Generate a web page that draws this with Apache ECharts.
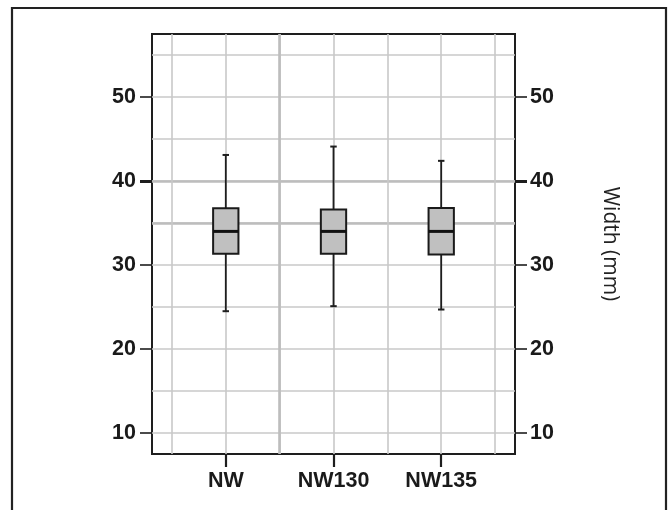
<!DOCTYPE html>
<html>
<head>
<meta charset="utf-8">
<script src="https://cdn.jsdelivr.net/npm/echarts@6/dist/echarts.min.js"></script>
<style>
  html, body { margin: 0; padding: 0; background: #fff; }
  #main { width: 670px; height: 510px; }
</style>
</head>
<body>
<div id="main"></div>
<script>
// groups on the x axis
const categories = ['NW', 'NW130', 'NW135'];
// box statistics per group (mm)
const whiskerLow = [24.5, 25.1, 24.7];
const boxLow = [31.35, 31.35, 31.25];
const medians = [34.0, 34.0, 34.0];
const boxHigh = [36.75, 36.6, 36.8];
const whiskerHigh = [43.1, 44.1, 42.4];
// y ticks / labels and the light grid
const yTickLabels = [10, 20, 30, 40, 50];
const yGridValues = [10, 15, 20, 25, 30, 35, 40, 45, 50, 55];
const yStrongGrid = [35, 40];
const yStrongTick = [40];
const xGridValues = [0.5, 1, 1.5, 2, 2.5, 3, 3.5];
const xStrongGrid = [1.5];

const chart = echarts.init(document.getElementById('main'));

const labelFont = {
  fontFamily: 'Liberation Sans',
  fontWeight: 'bold',
  fontSize: 21.5,
  color: '#1a1a1a'
};
const gridLine = { show: true, lineStyle: { color: '#c8c8c8', width: 1.6 } };
const strongLine = { show: true, lineStyle: { color: '#bdbdbd', width: 2.6 } };
const yRange = { type: 'value', min: 7.5, max: 57.5 };
const xRange = { type: 'value', min: 0.315, max: 3.685 };

const boxData = categories.map((c, i) => [
  i + 1, whiskerLow[i], boxLow[i], medians[i], boxHigh[i], whiskerHigh[i]
]);

function renderBox(params, api) {
  const x = api.value(0);
  const pLow = api.coord([x, api.value(1)]);
  const pQ1 = api.coord([x, api.value(2)]);
  const pMed = api.coord([x, api.value(3)]);
  const pQ3 = api.coord([x, api.value(4)]);
  const pHigh = api.coord([x, api.value(5)]);
  const halfBox = api.size([0.235, 0])[0] / 2;
  const halfCap = api.size([0.06, 0])[0] / 2;
  const stroke = { stroke: '#1e1e1e', lineWidth: 1.8 };
  return {
    type: 'group',
    children: [
      { type: 'line', shape: { x1: pHigh[0], y1: pHigh[1], x2: pQ3[0], y2: pQ3[1] }, style: stroke },
      { type: 'line', shape: { x1: pQ1[0], y1: pQ1[1], x2: pLow[0], y2: pLow[1] }, style: stroke },
      { type: 'line', shape: { x1: pHigh[0] - halfCap, y1: pHigh[1], x2: pHigh[0] + halfCap, y2: pHigh[1] }, style: { stroke: '#1e1e1e', lineWidth: 2 } },
      { type: 'line', shape: { x1: pLow[0] - halfCap, y1: pLow[1], x2: pLow[0] + halfCap, y2: pLow[1] }, style: { stroke: '#1e1e1e', lineWidth: 2 } },
      {
        type: 'rect',
        shape: { x: pQ3[0] - halfBox, y: pQ3[1], width: halfBox * 2, height: pQ1[1] - pQ3[1] },
        style: { fill: '#c0c0c0', stroke: '#1a1a1a', lineWidth: 2 }
      },
      { type: 'line', shape: { x1: pMed[0] - halfBox, y1: pMed[1], x2: pMed[0] + halfBox, y2: pMed[1] }, style: { stroke: '#111', lineWidth: 3 } }
    ]
  };
}

// helper for axes that only carry grid lines or an extra tick
function helperAxis(range, position, gridValues, split, tick) {
  return Object.assign({}, range, {
    position: position,
    axisLine: { show: false },
    axisTick: tick
      ? { show: true, customValues: gridValues, length: 12, lineStyle: { color: '#1e1e1e', width: 3 } }
      : { show: false, customValues: gridValues },
    axisLabel: { show: false },
    splitLine: split || { show: false }
  });
}

const option = {
  animation: false,
  backgroundColor: '#fff',
  graphic: [{
    type: 'rect',
    shape: { x: 12, y: 8, width: 654, height: 530 },
    style: { fill: null, stroke: '#222', lineWidth: 2.2 },
    silent: true
  }],
  grid: {
    left: 152, right: 155, top: 34, bottom: 56,
    show: true, borderColor: '#1e1e1e', borderWidth: 2
  },
  xAxis: [
    Object.assign({}, xRange, {
      position: 'bottom',
      axisLine: { show: false },
      axisTick: { customValues: [1, 2, 3], length: 13, lineStyle: { color: '#1e1e1e', width: 2.2 } },
      axisLabel: Object.assign({
        customValues: [1, 2, 3], margin: 16,
        formatter: v => categories[Math.round(v) - 1]
      }, labelFont),
      splitLine: { show: false }
    }),
    helperAxis(xRange, 'top', xGridValues, gridLine),
    helperAxis(xRange, 'top', xStrongGrid, strongLine)
  ],
  yAxis: [
    Object.assign({}, yRange, {
      position: 'left',
      axisLine: { show: false },
      axisTick: { customValues: yTickLabels, length: 12, lineStyle: { color: '#1e1e1e', width: 1.6 } },
      axisLabel: Object.assign({ customValues: yTickLabels, margin: 16 }, labelFont),
      splitLine: { show: false }
    }),
    Object.assign({}, yRange, {
      position: 'right',
      name: 'Width (mm)', nameLocation: 'middle', nameRotate: -90, nameGap: 84,
      nameTextStyle: { fontFamily: 'Open Sans', fontSize: 21, color: '#222' },
      axisLine: { show: false },
      axisTick: { customValues: yTickLabels, length: 12, lineStyle: { color: '#1e1e1e', width: 1.6 } },
      axisLabel: Object.assign({ customValues: yTickLabels, margin: 15 }, labelFont),
      splitLine: { show: false }
    }),
    helperAxis(yRange, 'left', yGridValues, gridLine),
    helperAxis(yRange, 'left', yStrongGrid, strongLine),
    helperAxis(yRange, 'left', yStrongTick, null, true),
    helperAxis(yRange, 'right', yStrongTick, null, true)
  ],
  series: [{
    type: 'custom',
    name: 'Width',
    xAxisIndex: 0,
    yAxisIndex: 0,
    renderItem: renderBox,
    encode: { x: 0, y: [1, 2, 3, 4, 5] },
    data: boxData,
    z: 5
  }]
};

chart.setOption(option);
</script>
</body>
</html>
